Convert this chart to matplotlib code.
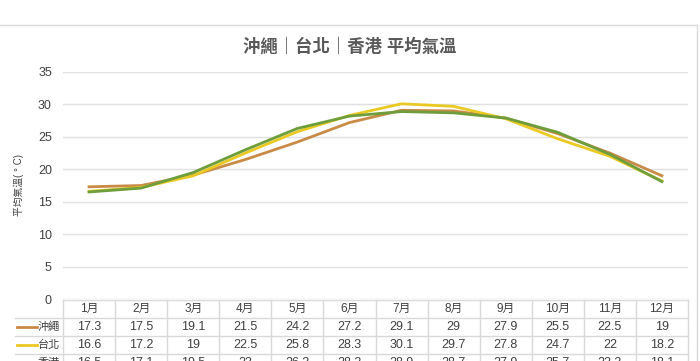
import numpy as np
import matplotlib.pyplot as plt
from matplotlib.lines import Line2D

plt.rcParams['font.family'] = ['Liberation Sans', 'Noto Sans CJK TC', 'DejaVu Sans']

meses = ["1月", "2月", "3月", "4月", "5月", "6月", "7月", "8月", "9月", "10月", "11月", "12月"]
okinawa = [17.3, 17.5, 19.1, 21.5, 24.2, 27.2, 29.1, 29, 27.9, 25.5, 22.5, 19]
taipei = [16.6, 17.2, 19, 22.5, 25.8, 28.3, 30.1, 29.7, 27.8, 24.7, 22, 18.2]
hongkong = [16.5, 17.1, 19.5, 23, 26.3, 28.2, 28.9, 28.7, 27.9, 25.7, 22.3, 18.1]
nombres = ["沖繩", "台北", "香港"]
colores = ["#C98A45", "#EBC923", "#6E9E3C"]
series = [okinawa, taipei, hongkong]

W, H = 700, 361
fig = plt.figure(figsize=(7, 3.61), dpi=100)

# marco exterior
fig.add_artist(Line2D([0, 697 / W], [1 - 25 / H, 1 - 25 / H], color="#d9d9d9", lw=1))
fig.add_artist(Line2D([697 / W, 697 / W], [0, 1 - 25 / H], color="#d9d9d9", lw=1))

x0, x1 = 63 / W, 688 / W
ax = fig.add_axes([x0, 1 - 299 / H, x1 - x0, (299 - 72) / H])
x = np.arange(len(meses))
for s, c in zip(series, colores):
    ax.plot(x, s, color=c, lw=2)
ax.set_xlim(-0.5, 11.5)
ax.set_ylim(0, 35)
ax.set_yticks(range(0, 36, 5))
ax.set_xticks([])
ax.grid(axis="y", color="#e0e0e0", lw=1)
ax.set_axisbelow(True)
for sp in ax.spines.values():
    sp.set_visible(False)
ax.tick_params(axis="y", length=0, labelsize=9, labelcolor="#404040", pad=8)
ax.set_ylabel("平均氣溫( ° C)", fontsize=7, color="#404040", labelpad=10)
fig.text(0.5, 1 - 46 / H, "沖繩｜台北｜香港 平均氣溫", ha="center", va="center",
         fontsize=12.5, fontweight="bold", color="#595959")

# tabla de datos
row_h = 18
tab = fig.add_axes([x0, 0, x1 - x0, 62 / H])
tab.set_xlim(-0.5, 11.5)
tab.set_ylim(62, 0)  # pixeles desde y=299
tab.axis("off")
gris = "#d9d9d9"
top = 1
n_rows = 4
for i in range(len(meses) + 1):
    tab.plot([i - 0.5, i - 0.5], [top, top + row_h * n_rows], color=gris, lw=1, clip_on=False)
tab.plot([-0.5, 11.5], [top, top], color=gris, lw=1, clip_on=False)
left = -0.5 - 48 / 52.08
for r in range(1, n_rows + 1):
    tab.plot([left, 11.5], [top + r * row_h, top + r * row_h], color=gris, lw=1, clip_on=False)
for i, m in enumerate(meses):
    tab.text(i, top + row_h * 0.5, m, ha="center", va="center", fontsize=8.5, color="#404040")
for r, (s, c, n) in enumerate(zip(series, colores, nombres)):
    yc = top + row_h * (r + 1.5)
    tab.plot([left + 0.04, left + 0.42], [yc, yc], color=c, lw=2, clip_on=False)
    tab.text(-0.56, yc, n, ha="right", va="center", fontsize=8, color="#404040", clip_on=False)
    for i, v in enumerate(s):
        tab.text(i, yc, f"{v:g}", ha="center", va="center", fontsize=9, color="#404040")

fig.savefig("out.png", dpi=100)
